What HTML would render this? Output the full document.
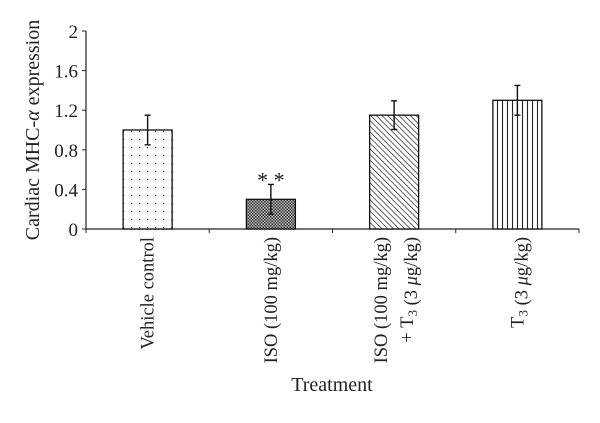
<!DOCTYPE html>
<html><head><meta charset="utf-8"><style>
body{margin:0;background:#fff}
svg text{font-family:"Liberation Serif",serif;fill:#222}
</style></head><body>
<svg width="600" height="418" xmlns="http://www.w3.org/2000/svg">
<defs>
<pattern id="p0" width="8" height="8" patternUnits="userSpaceOnUse"><rect width="8" height="8" fill="#fff"/><rect x="3" y="3" width="1.2" height="1.2" fill="#333"/></pattern>
<pattern id="p1" width="3" height="3" patternUnits="userSpaceOnUse"><rect width="3" height="3" fill="#bbb"/><rect width="1.5" height="1.5" fill="#333"/><rect x="1.5" y="1.5" width="1.5" height="1.5" fill="#333"/></pattern>
<pattern id="p2" width="4" height="4" patternUnits="userSpaceOnUse" patternTransform="rotate(-45)"><rect width="4" height="4" fill="#fff"/><line x1="0" y1="0" x2="0" y2="4" stroke="#222" stroke-width="1.4"/></pattern>
<pattern id="p3" width="5" height="5" patternUnits="userSpaceOnUse"><rect width="5" height="5" fill="#fff"/><line x1="2.5" y1="0" x2="2.5" y2="5" stroke="#222" stroke-width="1.1"/></pattern>
</defs>
<g id="plot"></g>
<text transform="translate(39,130) rotate(-90)" text-anchor="middle" font-size="20">Cardiac MHC-<tspan font-style="italic">α</tspan> expression</text>
<text x="332" y="391" text-anchor="middle" font-size="20">Treatment</text>
</svg>
<script>
const categories=["Vehicle control","ISO (100 mg/kg)","ISO (100 mg/kg)|+ T3 (3 μg/kg)","T3 (3 μg/kg)"];
const values=[1.0,0.3,1.15,1.30];
const errors=[0.15,0.15,0.145,0.15];
const yTicks=[0,0.4,0.8,1.2,1.6,2];
const yTickLabels=["0","0.4","0.8","1.2","1.6","2"];
const sig=["","**","",""];
const NS="http://www.w3.org/2000/svg";
const g=document.getElementById('plot');
const x0=86,x1=579,y0=229,y1=31;
const bw=(x1-x0)/categories.length;
const y=v=>y0-(v/2)*(y0-y1);
const xc=i=>x0+bw*(i+0.5);
function mk(t,a,p){const e=document.createElementNS(NS,t);for(const k in a)e.setAttribute(k,a[k]);(p||g).appendChild(e);return e;}
let e;
e=mk('line',{x1:x0,y1:y0,x2:x1,y2:y0,stroke:'#222','stroke-width':1.2});


e=mk('line',{x1:x0,y1:y1,x2:x0,y2:y0,stroke:'#222','stroke-width':1.2});


yTicks.forEach((t,i)=>{
 mk('line',{x1:x0-4,y1:y(t),x2:x0,y2:y(t),stroke:'#222'});
 e=mk('text',{x:x0-8,y:y(t)+7,'text-anchor':'end','font-size':19});
 e.textContent=yTickLabels[i];
 
 
});
for(let i=0;i<=categories.length;i++){mk('line',{x1:x0+bw*i,y1:y0,x2:x0+bw*i,y2:y0+4,stroke:'#222'});}
const pats=['p0','p1','p2','p3'];
values.forEach((v,i)=>{
 const c=xc(i);
 e=mk('rect',{x:c-24.5,y:y(v),width:49,height:y0-y(v),fill:'url(#'+pats[i]+')',stroke:'#111','stroke-width':1.3});
 
 
 const et=y(v+errors[i]),eb=y(v-errors[i]);
 e=mk('path',{d:`M${c},${et}V${eb}M${c-3},${et}H${c+3}M${c-3},${eb}H${c+3}`,stroke:'#111','stroke-width':1.4,fill:'none'});
 
 
 if(sig[i]){e=mk('text',{x:c,y:et+3,'text-anchor':'middle','font-size':22});e.textContent=sig[i].split('').join(' ');
  
  }
 const lines=categories[i].split('|');
 lines.forEach((ln,j)=>{
  const tx=c+6+j*26-(lines.length-1)*13;
  e=mk('text',{transform:`translate(${tx},237) rotate(-90)`,'text-anchor':'end','font-size':18.5});
  const parts=ln.split(/(T3|μ)/);
  parts.forEach(p=>{
   if(p==='T3'){const a=document.createElementNS(NS,'tspan');a.textContent='T';e.appendChild(a);const b=document.createElementNS(NS,'tspan');b.textContent='3';b.setAttribute('font-size','13');b.setAttribute('dy','4');e.appendChild(b);const c2=document.createElementNS(NS,'tspan');c2.setAttribute('dy','-4');c2.textContent='';e.appendChild(c2);}
   else if(p==='μ'){const a=document.createElementNS(NS,'tspan');a.setAttribute('font-style','italic');a.textContent='μ';e.appendChild(a);}
   else if(p){e.appendChild(document.createTextNode(p));}
  });
  
  
 });
});
</script>
</body></html>
